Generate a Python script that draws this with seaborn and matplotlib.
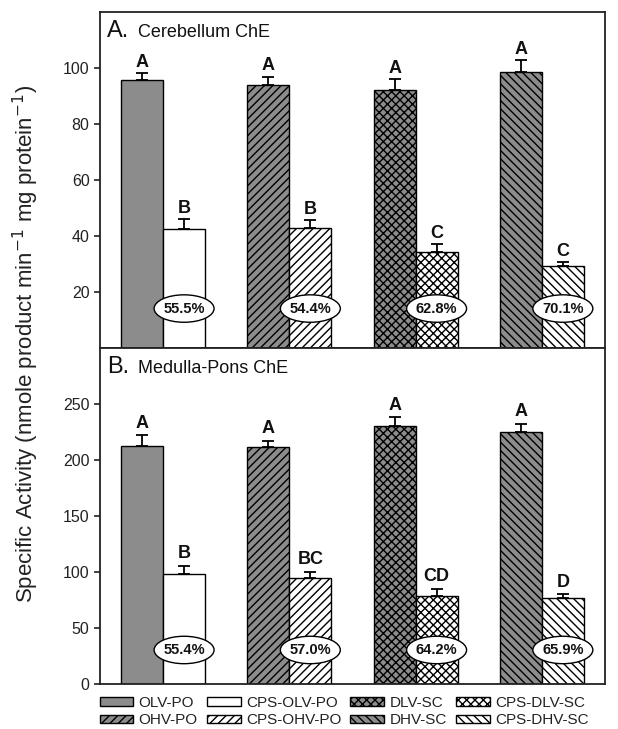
import numpy as np
import pandas as pd
import matplotlib.pyplot as plt
import seaborn as sns
from matplotlib.patches import Ellipse, Patch

sns.set_style("ticks")
plt.rcParams['font.family'] = ['Liberation Sans', 'DejaVu Sans']
plt.rcParams['hatch.linewidth'] = 1.0

pairs = ['OLV-PO', 'OHV-PO', 'DLV-SC', 'DHV-SC']
hatches = ['', '////', 'xxxx', '\\\\\\\\']

# cerebellum
cer_ctrl = [95.6, 93.9, 92.1, 98.7]
cer_ctrl_err = [2.5, 3.0, 3.9, 4.0]
cer_cps = [42.5, 42.7, 34.2, 29.4]
cer_cps_err = [3.5, 2.9, 2.9, 1.3]
cer_ctrl_let = ['A', 'A', 'A', 'A']
cer_cps_let = ['B', 'B', 'C', 'C']
cer_pct = ['55.5%', '54.4%', '62.8%', '70.1%']

# medulla-pons
med_ctrl = [212.8, 211.3, 230.6, 225.3]
med_ctrl_err = [9.2, 5.7, 7.5, 6.8]
med_cps = [97.9, 94.4, 78.6, 76.8]
med_cps_err = [7.7, 5.9, 6.5, 3.3]
med_ctrl_let = ['A', 'A', 'A', 'A']
med_cps_let = ['B', 'BC', 'CD', 'D']
med_pct = ['55.4%', '57.0%', '64.2%', '65.9%']

gray = '#8c8c8c'

fig = plt.figure(figsize=(6.18, 7.29), dpi=100)
ax1 = fig.add_axes([0.1618, 0.5226, 0.8172, 0.4609])
ax2 = fig.add_axes([0.1618, 0.0617, 0.8172, 0.4609])


def panel(ax, ctrl, ctrl_err, cps, cps_err, l1, l2, pct, ymax, yticks,
          tag, title, ell_y, ell_h, let_off):
    df = pd.DataFrame({
        'pair': pairs * 2,
        'value': ctrl + cps,
        'treat': ['ctrl'] * 4 + ['cps'] * 4,
    })
    sns.barplot(data=df, x='pair', y='value', hue='treat', order=pairs,
                hue_order=['ctrl', 'cps'], palette=[gray, 'white'],
                width=0.664, gap=0, errorbar=None, edgecolor='black',
                linewidth=1.0, legend=False, ax=ax)
    for cont, vals, errs, lets in [(ax.containers[0], ctrl, ctrl_err, l1),
                                   (ax.containers[1], cps, cps_err, l2)]:
        xs = [p.get_x() + p.get_width() / 2 for p in cont]
        for p, h in zip(cont, hatches):
            p.set_hatch(h)
        ax.errorbar(xs, vals, yerr=[np.zeros(4), errs], fmt='none',
                    ecolor='black', elinewidth=1.3, capsize=4.5, capthick=1.3)
        for x, v, e, t in zip(xs, vals, errs, lets):
            ax.annotate(t, (x, v + e), xytext=(0, let_off),
                        textcoords='offset points', ha='center', va='baseline',
                        fontsize=13, fontweight='bold', color='#111')
    xs2 = [p.get_x() + p.get_width() / 2 for p in ax.containers[1]]
    for x, t in zip(xs2, pct):
        ax.add_patch(Ellipse((x, ell_y), 0.475, ell_h, facecolor='white',
                             edgecolor='black', linewidth=1.0, zorder=5))
        ax.text(x, ell_y, t, ha='center', va='center', fontsize=10.5,
                fontweight='bold', color='#111', zorder=6)
    ax.set_xlim(-0.5, 3.5)
    ax.set_ylim(0, ymax)
    ax.set_yticks(yticks)
    ax.set_xticks([])
    ax.set_xlabel('')
    ax.set_ylabel('')
    ax.tick_params(axis='y', direction='out', length=4, width=1.2,
                   labelsize=11.5, colors='#222')
    for s in ax.spines.values():
        s.set_visible(True)
        s.set_linewidth(1.3)
        s.set_color('#222')
    ax.text(0.014, 0.925, tag, transform=ax.transAxes, fontsize=17,
            color='#111', va='baseline')
    ax.text(0.075, 0.925, title, transform=ax.transAxes, fontsize=13,
            color='#111', va='baseline')


panel(ax1, cer_ctrl, cer_ctrl_err, cer_cps, cer_cps_err, cer_ctrl_let,
      cer_cps_let, cer_pct, 120, [20, 40, 60, 80, 100], 'A.',
      'Cerebellum ChE', 14.1, 9.8, 4.5)
panel(ax2, med_ctrl, med_ctrl_err, med_cps, med_cps_err, med_ctrl_let,
      med_cps_let, med_pct, 300, [0, 50, 100, 150, 200, 250], 'B.',
      'Medulla-Pons ChE', 30.4, 24.5, 5.5)

fig.text(0.042, 0.528,
         'Specific Activity (nmole product min$^{-1}$ mg protein$^{-1}$)',
         rotation=90, ha='center', va='center', fontsize=16, color='#222')

labels = ['OLV-PO', 'OHV-PO', 'CPS-OLV-PO', 'CPS-OHV-PO',
          'DLV-SC', 'DHV-SC', 'CPS-DLV-SC', 'CPS-DHV-SC']
order = [(0, 'ctrl'), (1, 'ctrl'), (0, 'cps'), (1, 'cps'),
         (2, 'ctrl'), (3, 'ctrl'), (2, 'cps'), (3, 'cps')]
handles = []
for (i, t), lab in zip(order, labels):
    handles.append(Patch(facecolor=gray if t == 'ctrl' else 'white',
                         edgecolor='black', hatch=hatches[i], label=lab))
fig.legend(handles=handles, ncol=4, loc='upper left',
           bbox_to_anchor=(0.149, 1 - 688 / 729), frameon=False,
           fontsize=11, handlelength=2.2, handleheight=0.5,
           handletextpad=0.35, columnspacing=0.6, labelspacing=0.25,
           borderpad=0, labelcolor='#222')

fig.savefig('out.png', dpi=100)
